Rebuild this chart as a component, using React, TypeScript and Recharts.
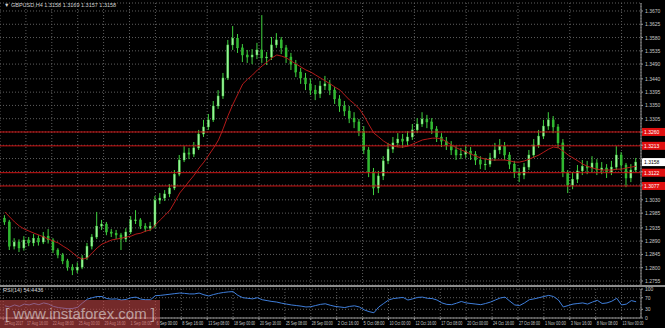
import { ComposedChart, Bar, Line, XAxis, YAxis, CartesianGrid, ReferenceLine } from 'recharts';

// GBPUSD H4, each candle = 3 H4 bars (t = index of middle H4 bar)
const opens = [
  1.2968, 1.2955, 1.2873, 1.2887, 1.2867, 1.2894, 1.2884, 1.29, 1.2887, 1.2907,
  1.2894, 1.286, 1.2843, 1.2823, 1.2802, 1.2792, 1.2802, 1.2833, 1.2873, 1.2904,
  1.2941, 1.2948, 1.2921, 1.2917, 1.2911, 1.2897, 1.2921, 1.2962, 1.2962, 1.2941,
  1.2934, 1.2941, 1.3029, 1.3036, 1.305, 1.307, 1.3117, 1.3165, 1.3189, 1.3185,
  1.3206, 1.3253, 1.3277, 1.3301, 1.3348, 1.3382, 1.3443, 1.3555, 1.3578, 1.3545,
  1.3521, 1.3514, 1.3521, 1.3538, 1.3511, 1.3514, 1.3555, 1.3572, 1.3545, 1.3514,
  1.349, 1.3463, 1.3443, 1.3423, 1.3402, 1.3389, 1.3416, 1.3423, 1.3402, 1.3372,
  1.3348, 1.3331, 1.3307, 1.3294, 1.3263, 1.3199, 1.3124, 1.307, 1.3111, 1.3162,
  1.3202, 1.3223, 1.3236, 1.3229, 1.3243, 1.3267, 1.3287, 1.3304, 1.3294, 1.327,
  1.3243, 1.3229, 1.3216, 1.3199, 1.3182, 1.3185, 1.3195, 1.3185, 1.3165, 1.3151,
  1.3151, 1.3172, 1.3199, 1.3212, 1.3182, 1.3151, 1.3124, 1.3114, 1.3141, 1.3182,
  1.3216, 1.3246, 1.328, 1.3301, 1.3277, 1.3223, 1.3124, 1.308, 1.31, 1.3128,
  1.3144, 1.3138, 1.3155, 1.3131, 1.3138, 1.3124, 1.3141, 1.3182, 1.3148, 1.3104,
  1.3131,
];
const highs = [
  1.2978, 1.2962, 1.29, 1.2896, 1.2907, 1.2904, 1.2914, 1.291, 1.2921, 1.2931,
  1.29, 1.2866, 1.285, 1.283, 1.2812, 1.2818, 1.2843, 1.2884, 1.2914, 1.2989,
  1.2962, 1.2955, 1.2931, 1.2928, 1.2918, 1.2934, 1.2975, 1.2995, 1.2968, 1.2951,
  1.2955, 1.3043, 1.3053, 1.3063, 1.3083, 1.3131, 1.3182, 1.3212, 1.3206, 1.3226,
  1.3267, 1.3301, 1.3321, 1.3365, 1.3402, 1.346, 1.3572, 1.3619, 1.3592, 1.3558,
  1.3538, 1.3541, 1.3562, 1.3656, 1.3531, 1.3582, 1.3595, 1.3582, 1.3555, 1.3528,
  1.3504, 1.3477, 1.346, 1.344, 1.3419, 1.3433, 1.345, 1.3436, 1.3412, 1.3385,
  1.3365, 1.3348, 1.3327, 1.3304, 1.328, 1.3209, 1.3138, 1.3128, 1.3178, 1.3223,
  1.3243, 1.3256, 1.3253, 1.3263, 1.3287, 1.3307, 1.3327, 1.3318, 1.3307, 1.328,
  1.3256, 1.3243, 1.3229, 1.3212, 1.3206, 1.3216, 1.3209, 1.3195, 1.3178, 1.3172,
  1.3189, 1.3223, 1.3236, 1.3226, 1.3192, 1.3162, 1.3138, 1.3155, 1.3199, 1.3236,
  1.3267, 1.3301, 1.3327, 1.3314, 1.3287, 1.3236, 1.3131, 1.3124, 1.3148, 1.3165,
  1.3162, 1.3178, 1.3168, 1.3158, 1.3151, 1.3162, 1.3212, 1.3192, 1.3155, 1.3151,
  1.3172,
];
const lows = [
  1.2945, 1.286, 1.2862, 1.2853, 1.2858, 1.2873, 1.2873, 1.2875, 1.288, 1.2882,
  1.285, 1.2832, 1.2812, 1.279, 1.2775, 1.2782, 1.2795, 1.2826, 1.2862, 1.2897,
  1.2928, 1.291, 1.2904, 1.2897, 1.286, 1.2887, 1.2914, 1.2948, 1.2931, 1.2921,
  1.2924, 1.2934, 1.3016, 1.3026, 1.3039, 1.3063, 1.311, 1.3158, 1.3168, 1.3175,
  1.3199, 1.3243, 1.3267, 1.3294, 1.3338, 1.3372, 1.3436, 1.3538, 1.3528, 1.3497,
  1.3494, 1.349, 1.3507, 1.3494, 1.3487, 1.3504, 1.3545, 1.3524, 1.3494, 1.347,
  1.3446, 1.3423, 1.3402, 1.3385, 1.3368, 1.3375, 1.3402, 1.3385, 1.3355, 1.3328,
  1.3314, 1.329, 1.3273, 1.3246, 1.3185, 1.3107, 1.3046, 1.3053, 1.3097, 1.3151,
  1.3189, 1.3209, 1.3206, 1.3212, 1.3233, 1.3256, 1.3277, 1.3273, 1.3253, 1.3226,
  1.3209, 1.3199, 1.3182, 1.3165, 1.3168, 1.3172, 1.3165, 1.3148, 1.3134, 1.3131,
  1.3141, 1.3162, 1.3185, 1.3165, 1.3134, 1.3104, 1.309, 1.31, 1.3131, 1.3172,
  1.3206, 1.3236, 1.3267, 1.3256, 1.3206, 1.3107, 1.3053, 1.3066, 1.3087, 1.3114,
  1.3117, 1.3124, 1.3114, 1.3117, 1.3104, 1.3114, 1.3131, 1.3128, 1.3073, 1.309,
  1.3124,
];
const closes = [
  1.2955, 1.2873, 1.2887, 1.2867, 1.2894, 1.2884, 1.29, 1.2887, 1.2907, 1.2894,
  1.286, 1.2843, 1.2823, 1.2802, 1.2792, 1.2802, 1.2833, 1.2873, 1.2904, 1.2941,
  1.2948, 1.2921, 1.2917, 1.2911, 1.2897, 1.2921, 1.2962, 1.2962, 1.2941, 1.2934,
  1.2941, 1.3029, 1.3036, 1.305, 1.307, 1.3117, 1.3165, 1.3189, 1.3185, 1.3206,
  1.3253, 1.3277, 1.3301, 1.3348, 1.3382, 1.3443, 1.3555, 1.3578, 1.3545, 1.3521,
  1.3514, 1.3521, 1.3538, 1.3511, 1.3514, 1.3555, 1.3572, 1.3545, 1.3514, 1.349,
  1.3463, 1.3443, 1.3423, 1.3402, 1.3389, 1.3416, 1.3423, 1.3402, 1.3372, 1.3348,
  1.3331, 1.3307, 1.3294, 1.3263, 1.3199, 1.3124, 1.307, 1.3111, 1.3162, 1.3202,
  1.3223, 1.3236, 1.3229, 1.3243, 1.3267, 1.3287, 1.3304, 1.3294, 1.327, 1.3243,
  1.3229, 1.3216, 1.3199, 1.3182, 1.3185, 1.3195, 1.3185, 1.3165, 1.3151, 1.3151,
  1.3172, 1.3199, 1.3212, 1.3182, 1.3151, 1.3124, 1.3114, 1.3141, 1.3182, 1.3216,
  1.3246, 1.328, 1.3301, 1.3277, 1.3223, 1.3124, 1.308, 1.31, 1.3128, 1.3144,
  1.3138, 1.3155, 1.3131, 1.3138, 1.3124, 1.3141, 1.3182, 1.3148, 1.3104, 1.3131,
  1.3158,
];
const maValues = [
  1.2989, 1.2972, 1.2955, 1.2941, 1.2931, 1.2924, 1.2917, 1.2911, 1.2904, 1.2897,
  1.289, 1.2884, 1.2873, 1.2863, 1.285, 1.2836, 1.2829, 1.2833, 1.285, 1.2867,
  1.288, 1.2887, 1.2894, 1.2897, 1.29, 1.2904, 1.2907, 1.2914, 1.2917, 1.2924,
  1.2928, 1.2945, 1.2962, 1.2978, 1.2995, 1.3023, 1.3053, 1.3073, 1.3094, 1.3114,
  1.3138, 1.3158, 1.3182, 1.3206, 1.3233, 1.3273, 1.3317, 1.3355, 1.3389, 1.3423,
  1.3439, 1.3453, 1.347, 1.3484, 1.3497, 1.3511, 1.3521, 1.3517, 1.3511, 1.35,
  1.349, 1.348, 1.347, 1.3463, 1.3453, 1.3443, 1.3433, 1.3423, 1.3412, 1.3402,
  1.3385, 1.3368, 1.3355, 1.3338, 1.3314, 1.3284, 1.3256, 1.3243, 1.3229, 1.3219,
  1.3212, 1.3209, 1.3209, 1.3212, 1.3219, 1.3226, 1.3233, 1.3236, 1.3239, 1.3239,
  1.3236, 1.3226, 1.3216, 1.3206, 1.3199, 1.3192, 1.3185, 1.3178, 1.3172, 1.3168,
  1.3165, 1.3165, 1.3165, 1.3165, 1.3162, 1.3158, 1.3158, 1.3162, 1.3168, 1.3175,
  1.3182, 1.3192, 1.3202, 1.3209, 1.3206, 1.3195, 1.3182, 1.3172, 1.3162, 1.3151,
  1.3144, 1.3138, 1.3134, 1.3131, 1.3131, 1.3131, 1.3134, 1.3134, 1.3138, 1.3141,
  1.3144,
];
const rsiValues = [
  42, 38, 45, 40, 48, 45, 50, 46, 52, 48,
  40, 36, 34, 32, 33, 37, 52, 65, 70, 74,
  74, 67, 65, 66, 62, 64, 70, 72, 65, 63,
  63, 77, 78, 80, 82, 84, 86, 85, 83, 83,
  86, 80, 76, 81, 85, 88, 90, 91, 78, 70,
  68, 66, 70, 63, 60, 57, 55, 51, 48, 45,
  43, 41, 38, 39, 43, 47, 49, 44, 40, 38,
  36, 40, 42, 38, 28, 22, 18, 38, 50, 62,
  67, 69, 71, 62, 66, 71, 72, 68, 67, 62,
  52, 47, 46, 51, 57, 52, 50, 48, 46, 50,
  55, 62, 69, 72, 58, 45, 43, 52, 63, 66,
  70, 74, 78, 74, 62, 38, 43, 48, 50, 52,
  48, 55, 61, 50, 52, 58, 68, 45, 48, 60,
  56,
];

const priceTicks = [
  1.2755, 1.28, 1.2845, 1.289, 1.2935, 1.2985, 1.303, 1.308, 1.3125, 1.317, 1.3215,
  1.326, 1.3305, 1.335, 1.3395, 1.344, 1.349, 1.3535, 1.358, 1.3625, 1.367,
];
const levels = [1.326, 1.3213, 1.3122, 1.3077];
const lastPrice = 1.3158;

const timeTicks = [
  0, 14, 30, 46, 62, 78, 94, 110, 126, 142, 158, 174, 190, 206, 222, 238, 254, 270,
  286, 302, 318, 334, 350, 366, 382,
];
const timeLabels = [
  '15 Aug 2017', '17 Aug 16:00', '22 Aug 08:00', '25 Aug 00:00', '29 Aug 16:00',
  '1 Sep 08:00', '6 Sep 00:00', '8 Sep 16:00', '13 Sep 08:00', '18 Sep 00:00',
  '20 Sep 16:00', '25 Sep 08:00', '28 Sep 00:00', '2 Oct 16:00', '5 Oct 08:00',
  '10 Oct 00:00', '12 Oct 16:00', '17 Oct 08:00', '20 Oct 00:00', '24 Oct 16:00',
  '27 Oct 08:00', '1 Nov 00:00', '3 Nov 16:00', '8 Nov 08:00', '13 Nov 00:00',
];
const rsiTicks = [0, 30, 70, 100];

const data = closes.map((c, i) => ({
  t: i * 3 + 1,
  open: opens[i],
  high: highs[i],
  low: lows[i],
  close: c,
  range: [lows[i], highs[i]],
  ma: maValues[i],
  rsi: rsiValues[i],
}));

const FONT = '"Liberation Sans", Arial, sans-serif';
const AXIS_TEXT = '#c8c8c8';
const X_DOMAIN: [number, number] = [-2, 394];

function Candle(props: any) {
  const { x, y, width, height, payload } = props;
  if (!payload) return <g />;
  const { open, close, high, low } = payload;
  const top = Math.min(y, y + height);
  const h = Math.abs(height);
  const span = high - low || 1e-9;
  const toY = (v: number) => top + ((high - v) / span) * h;
  const cx = x + width / 2;
  const bodyTop = toY(Math.max(open, close));
  const bodyBot = toY(Math.min(open, close));
  const up = close >= open;
  return (
    <g>
      <line x1={cx} x2={cx} y1={top} y2={top + h} stroke="#3fd23f" strokeWidth={1} />
      <rect
        x={x}
        y={bodyTop}
        width={width}
        height={Math.max(0.8, bodyBot - bodyTop)}
        fill={up ? '#9af29a' : '#2fb82f'}
        stroke="#3fd23f"
        strokeWidth={0.4}
      />
    </g>
  );
}

function PriceTick(props: any) {
  const { x, y, payload } = props;
  const v = payload.value;
  const hidden = levels.some((l) => Math.abs(l - v) < 0.002) || Math.abs(v - lastPrice) < 0.002;
  if (hidden) return <g />;
  return (
    <text x={x} y={y + 2} fontSize={5} fill={AXIS_TEXT} fontFamily={FONT} textAnchor="start">
      {v.toFixed(4)}
    </text>
  );
}

function RsiTick(props: any) {
  const { x, y, payload } = props;
  return (
    <text x={x} y={y + 2} fontSize={5} fill={AXIS_TEXT} fontFamily={FONT} textAnchor="start">
      {payload.value}
    </text>
  );
}

function TimeTick(props: any) {
  const { x, y, payload } = props;
  const idx = timeTicks.indexOf(payload.value);
  const label = timeLabels[idx];
  return (
    <text
      x={x + 1}
      y={y + 3}
      fontSize={4.5}
      fill={AXIS_TEXT}
      fontFamily={FONT}
      textAnchor="start"
      textLength={idx === 0 ? 19 : 21}
      lengthAdjust="spacingAndGlyphs"
    >
      {label}
    </text>
  );
}

function PriceTag(props: any) {
  const { viewBox, text, bg, fg } = props;
  if (!viewBox) return <g />;
  const x = viewBox.x + viewBox.width;
  const y = viewBox.y;
  return (
    <g>
      <rect x={x + 1} y={y - 4} width={23} height={8} fill={bg} />
      <text x={x + 3} y={y + 2} fontSize={5} fill={fg} fontFamily={FONT}>
        {text}
      </text>
    </g>
  );
}

export default function App() {
  return (
    <div
      style={{
        position: 'absolute',
        left: 0,
        top: 0,
        width: 665,
        height: 328,
        background: '#000',
        overflow: 'hidden',
        fontFamily: FONT,
      }}
    >
      <div style={{ position: 'absolute', left: 0, top: 0 }}>
        <ComposedChart width={665} height={286} data={data} margin={{ top: 3, right: 0, bottom: 1, left: 0 }}>
          <CartesianGrid stroke="#5e5e5e" strokeDasharray="1 2" />
          <XAxis dataKey="t" type="number" domain={X_DOMAIN} ticks={timeTicks.slice(1)} hide />
          <YAxis
            orientation="right"
            width={24}
            type="number"
            domain={[1.27414, 1.36971]}
            allowDataOverflow
            ticks={priceTicks}
            interval={0}
            tick={<PriceTick />}
            tickSize={2}
            tickMargin={2}
            axisLine={{ stroke: '#9a9a9a' }}
            tickLine={{ stroke: '#9a9a9a' }}
          />
          {levels.map((l) => (
            <ReferenceLine
              key={l}
              y={l}
              stroke="#cc1414"
              strokeWidth={1}
              label={<PriceTag text={l.toFixed(4)} bg="#e01010" fg="#ffffff" />}
            />
          ))}
          <ReferenceLine
            y={lastPrice}
            stroke="none"
            label={<PriceTag text={lastPrice.toFixed(4)} bg="#ffffff" fg="#000000" />}
          />
          <Bar dataKey="range" shape={<Candle />} barSize={2} isAnimationActive={false} />
          <Line
            dataKey="ma"
            type="linear"
            stroke="#b51a1a"
            strokeWidth={1}
            dot={false}
            isAnimationActive={false}
          />
        </ComposedChart>
      </div>

      <div style={{ position: 'absolute', left: 0, top: 285, width: 665, height: 2, background: '#8c8c8c' }} />

      <div style={{ position: 'absolute', left: 0, top: 287 }}>
        <ComposedChart width={665} height={41} data={data} margin={{ top: 2, right: 0, bottom: 0, left: 0 }}>
          <CartesianGrid stroke="#5e5e5e" strokeDasharray="1 2" />
          <XAxis
            dataKey="t"
            type="number"
            domain={X_DOMAIN}
            ticks={timeTicks}
            tick={<TimeTick />}
            height={10}
            tickSize={2}
            axisLine={{ stroke: '#9a9a9a' }}
            tickLine={{ stroke: '#9a9a9a' }}
            interval={0}
          />
          <YAxis
            orientation="right"
            width={24}
            type="number"
            domain={[0, 100]}
            ticks={rsiTicks}
            tick={<RsiTick />}
            tickSize={2}
            tickMargin={2}
            axisLine={{ stroke: '#9a9a9a' }}
            tickLine={{ stroke: '#9a9a9a' }}
            interval={0}
          />
          <Line
            dataKey="rsi"
            type="linear"
            stroke="#3f7fdc"
            strokeWidth={1}
            dot={false}
            isAnimationActive={false}
          />
        </ComposedChart>
      </div>

      <div
        style={{
          position: 'absolute',
          left: 4,
          top: 3,
          fontSize: 5.5,
          lineHeight: 1,
          color: '#d0d0d0',
          whiteSpace: 'nowrap',
        }}
      >
        ▼ GBPUSD,H4 1.3158 1.3169 1.3157 1.3158
      </div>
      <div
        style={{
          position: 'absolute',
          left: 3,
          top: 288,
          fontSize: 5.5,
          lineHeight: 1,
          color: '#d0d0d0',
          whiteSpace: 'nowrap',
        }}
      >
        RSI(14) 54.4436
      </div>

      <div
        style={{
          position: 'absolute',
          left: 0,
          top: 300,
          width: 160,
          height: 28,
          background: 'rgba(200, 72, 72, 0.58)',
          color: 'rgba(235, 235, 235, 0.6)',
          fontSize: 15,
          lineHeight: '28px',
          textAlign: 'center',
          whiteSpace: 'nowrap',
        }}
      >
        [ www.instaforex.com ]
      </div>
    </div>
  );
}
